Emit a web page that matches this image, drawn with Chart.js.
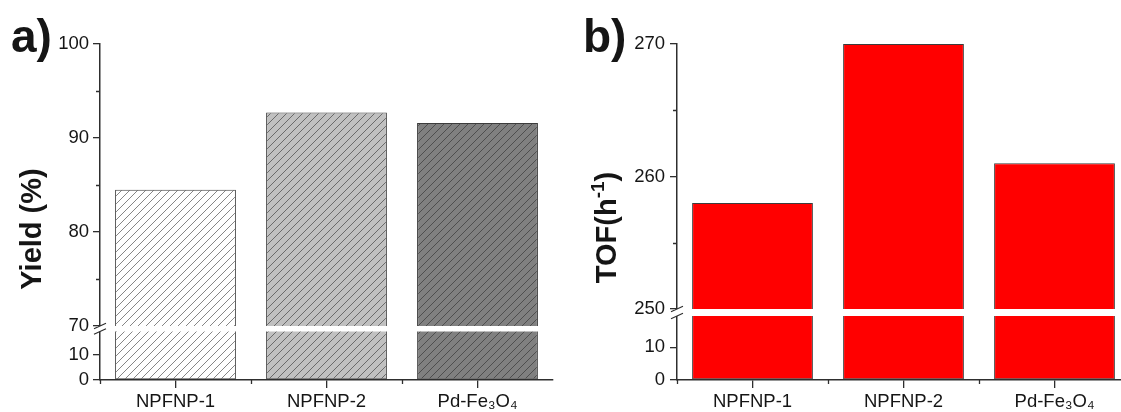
<!DOCTYPE html>
<html><head><meta charset="utf-8">
<script src="https://cdn.jsdelivr.net/npm/chart.js@4.4.1/dist/chart.umd.min.js"></script>
<style>
html,body{margin:0;padding:0;background:#fff;overflow:hidden;width:1121px;height:412px;}
.box{position:absolute;top:0;height:412px;}
#wa{left:0;width:560px;}
#wb{left:560px;width:570px;}
canvas{display:block;}
</style></head><body>
<div class="box" id="wa"><canvas id="ca" width="560" height="412"></canvas></div>
<div class="box" id="wb"><canvas id="cb" width="570" height="412"></canvas></div>
<script>
// ---- data ----
const categories = ['NPFNP-1', 'NPFNP-2', 'Pd-Fe₃O₄'];
const yieldValues = [84.5, 92.7, 91.6];
const tofValues = [258, 270, 261];
const yieldTopTicks = [70, 80, 90, 100];
const yieldTopMinor = [75, 85, 95];
const yieldBottomTicks = [0, 10];
const tofTopTicks = [250, 260, 270];
const tofTopMinor = [255, 265];
const tofBottomTicks = [0, 10];
const yieldBreak = {topMin: 70, topMax: 100, bottomMax: 21.2};
const tofBreak = {topMin: 250, topMax: 270, bottomMax: 21.7};

const FONT = "'Liberation Sans', Arial, sans-serif";
const AXIS = '#2e2e2e';
const TXT = '#151515';

function hatch(ctx, bg) {
  const s = 8;
  const c = document.createElement('canvas'); c.width = s; c.height = s;
  const g = c.getContext('2d');
  g.fillStyle = bg; g.fillRect(0, 0, s, s);
  g.strokeStyle = 'rgba(40,40,40,0.75)'; g.lineWidth = 0.75;
  g.beginPath();
  g.moveTo(-1, s + 1); g.lineTo(s + 1, -1);
  g.moveTo(-1, 1); g.lineTo(1, -1);
  g.moveTo(s - 1, s + 1); g.lineTo(s + 1, s - 1);
  g.stroke();
  return ctx.createPattern(c, 'repeat');
}

function makeDecor(cfg) {
  return {
    id: 'decor',
    afterDraw(chart) {
      const ctx = chart.ctx;
      const x = chart.scales.x, yt = chart.scales.yTop;
      const {left, right, bottom} = chart.chartArea;
      ctx.save();
      ctx.strokeStyle = AXIS; ctx.lineWidth = 1.3;
      ctx.beginPath();
      cfg.minor.forEach(v => {
        const py = Math.round(yt.getPixelForValue(v)) + 0.5;
        ctx.moveTo(left - 4, py); ctx.lineTo(left, py);
      });
      const n = chart.data.labels.length;
      const w = x.getPixelForValue(1) - x.getPixelForValue(0);
      for (let i = 0; i < n; i++) {
        const px = Math.round(x.getPixelForValue(i) - w / 2) + 0.5;
        ctx.moveTo(px, bottom); ctx.lineTo(px, bottom + 4);
      }
      ctx.stroke();
      // axis break
      const by = yt.bottom;
      ctx.fillStyle = '#fff';
      ctx.fillRect(left - 3, by, right - left + 10, cfg.gap);
      ctx.beginPath(); ctx.lineWidth = 1.2;
      [by, by + cfg.gap].forEach(yy => { ctx.moveTo(left - 6, yy + 2.7); ctx.lineTo(left + 6, yy - 2.7); });
      ctx.stroke();
      // panel letter
      ctx.fillStyle = TXT;
      ctx.font = 'bold 46px ' + FONT;
      ctx.textAlign = 'left'; ctx.textBaseline = 'alphabetic';
      ctx.fillText(cfg.letter, cfg.letterX, 52);
      // y title
      ctx.save();
      ctx.translate(cfg.titleX, cfg.titleY);
      ctx.rotate(-Math.PI / 2);
      const parts = cfg.title;
      let total = 0;
      parts.forEach(p => { ctx.font = 'bold ' + p.size + 'px ' + FONT; p.w = ctx.measureText(p.text).width; total += p.w; });
      let cx = -total / 2;
      parts.forEach(p => { ctx.font = 'bold ' + p.size + 'px ' + FONT; ctx.fillText(p.text, cx, -(p.rise || 0)); cx += p.w; });
      ctx.restore();
      ctx.restore();
    }
  };
}

function panel(id, cfg) {
  const canvas = document.getElementById(id);
  const ctx = canvas.getContext('2d');
  const fills = cfg.colors.map(c => cfg.hatched ? hatch(ctx, c) : c);
  const common = {backgroundColor: fills, borderColor: '#3c3c3c', borderWidth: 1, grouped: false, barPercentage: 0.8, categoryPercentage: 1};
  const tickFont = {family: FONT, size: 18.5};
  const yScale = (ticks, min, max, weight, sw) => ({
    type: 'linear', position: 'left', stack: 'ys', stackWeight: sw, weight: weight,
    min: min, max: max,
    afterBuildTicks: s => { s.ticks = ticks.map(v => ({value: v})); },
    afterFit: s => { s.width = cfg.yW; },
    grid: {drawOnChartArea: false, drawTicks: true, tickLength: 7, color: AXIS, lineWidth: 1.3},
    border: {display: true, color: AXIS, width: 1.5},
    ticks: {font: tickFont, color: TXT, padding: cfg.tickPad}
  });
  return new Chart(canvas, {
    type: 'bar',
    data: {
      labels: categories,
      datasets: [
        Object.assign({data: cfg.values, yAxisID: 'yTop', borderSkipped: 'start'}, common),
        Object.assign({data: cfg.values.map(v => Math.min(v, cfg.brk.bottomMax)), yAxisID: 'yBot', borderSkipped: 'end'}, common)
      ]
    },
    options: {
      responsive: false, animation: false, devicePixelRatio: 1,
      layout: {padding: {top: 44, right: cfg.padR, bottom: 0, left: 0}},
      plugins: {legend: {display: false}, tooltip: {enabled: false}},
      scales: {
        x: {
          type: 'category', offset: true,
          afterFit: s => { s.height = 32; },
          grid: {offset: false, drawOnChartArea: false, tickLength: 8, color: AXIS, lineWidth: 1.3},
          border: {display: true, color: AXIS, width: 1.5},
          ticks: {font: tickFont, color: TXT, padding: 3, maxRotation: 0, autoSkip: false}
        },
        yTop: yScale(cfg.topTicks, cfg.brk.topMin, cfg.brk.topMax, 2, cfg.topW),
        yBot: yScale(cfg.botTicks, 0, cfg.brk.bottomMax, 1, cfg.botW)
      }
    },
    plugins: [makeDecor(cfg)]
  });
}

panel('ca', {
  values: yieldValues, colors: ['#ffffff', '#c0c0c0', '#808080'], hatched: true,
  brk: yieldBreak, topTicks: yieldTopTicks, botTicks: yieldBottomTicks, minor: yieldTopMinor,
  yW: 100, padR: 7, tickPad: 4, topW: 282, botW: 54, gap: 5.5,
  letter: 'a)', letterX: 11, titleX: 40.5, titleY: 229,
  title: [{text: 'Yield (%)', size: 29}]
});
panel('cb', {
  values: tofValues, colors: ['#ff0000', '#ff0000', '#ff0000'], hatched: false,
  brk: tofBreak, topTicks: tofTopTicks, botTicks: tofBottomTicks, minor: tofTopMinor,
  yW: 117, padR: 0, tickPad: 5, topW: 265, botW: 71, gap: 7,
  letter: 'b)', letterX: 23, titleX: 56, titleY: 227.5,
  title: [{text: 'TOF(h', size: 29}, {text: '-1', size: 19, rise: 12}, {text: ')', size: 29}]
});
</script>
</body></html>
